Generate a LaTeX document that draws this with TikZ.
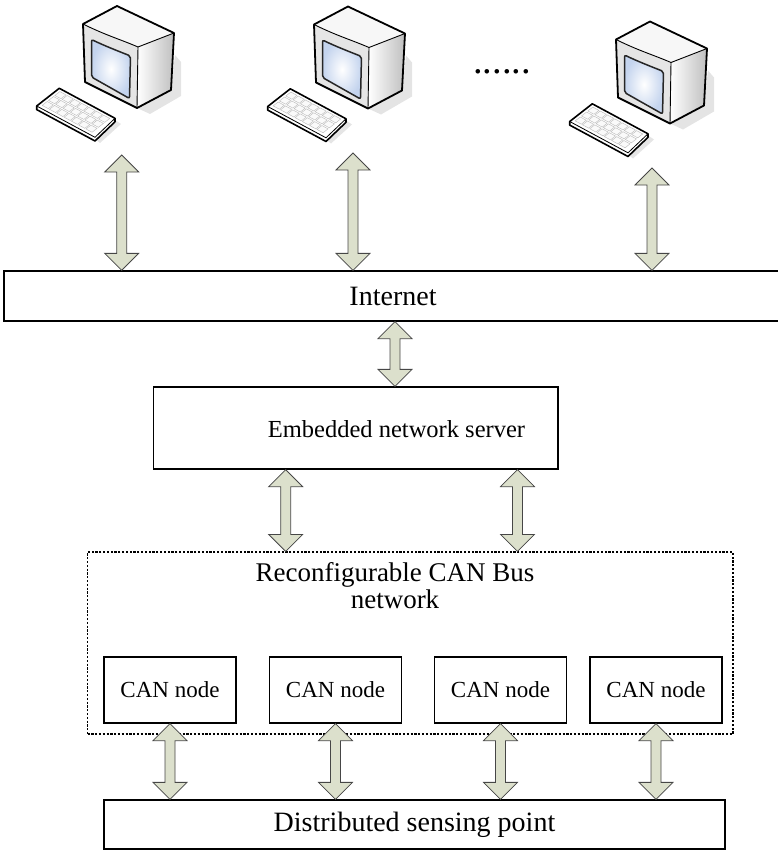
\documentclass[tikz,border=0pt]{standalone}
\usepackage{fontspec}
\setmainfont{Liberation Serif}
\usetikzlibrary{calc}

\definecolor{arrowfill}{RGB}{220,224,204}
\definecolor{arrowline}{RGB}{70,70,70}
\definecolor{screenblue}{RGB}{196,212,238}

% One workstation: monitor and keyboard, in local pixel-like units
\newcommand{\pcdraw}{%
  % soft shadows
  \fill[gray!30,opacity=0.7] (137,108) -- (171,90) -- (175,55) -- (181,62) -- (181,96) -- (150,114) -- cycle;
  \fill[gray!25,opacity=0.8] (95,139) -- (115,120) -- (121,124) -- (100,143) -- cycle;
  % right side of the cabinet
  \shade[left color=white, right color=gray!50] (138,47) -- (174,33) -- (171,90) -- (137,108) -- cycle;
  % top of the cabinet
  \fill[gray!6] (83,24) -- (117,6) -- (174,33) -- (138,47) -- cycle;
  % front bezel
  \fill[gray!20] (83,24) .. controls (105,35) and (122,40) .. (138,47) -- (137,108) -- (85,82) -- cycle;
  % screen
  \shadedraw[line width=1.5pt, draw=black!85, rounded corners=2pt, inner color=white, outer color=screenblue]
    (91.5,39.5) .. controls (105,46) and (118,51) .. (130.5,56) -- (129.5,98.5) -- (91.5,77) -- cycle;
  % cabinet outline and edges
  \draw[line width=1.8pt, line join=round] (83,24) -- (117,6) -- (174,33) -- (171,90) -- (137,108) -- (85,82) -- cycle;
  \draw[line width=0.9pt] (83,24) .. controls (105,35) and (122,40) .. (138,47) -- (174,33);
  \draw[line width=0.9pt] (138,47) -- (137,108);
  % keyboard body
  \filldraw[fill=white, line width=1.6pt, line join=round]
    (36.7,106) -- (59.3,88.3) -- (115,118.3) -- (115,121.8) -- (95,141) -- (36.7,109.6) -- cycle;
  \draw[line width=0.8pt] (36.7,106) -- (95,137.3) -- (115,118.3);
  % keys
  \foreach \col in {0,...,6}{
    \foreach \row in {0,1,2}{
      \pgfmathsetmacro{\ua}{0.05+\col*0.131}
      \pgfmathsetmacro{\ub}{\ua+0.11}
      \pgfmathsetmacro{\va}{0.1+\row*0.28}
      \pgfmathsetmacro{\vb}{\va+0.22}
      \filldraw[fill=gray!4, draw=gray!55, line width=0.4pt]
        ({59.3+55.7*\ua-22.6*\va},{88.3+30*\ua+17.7*\va}) --
        ({59.3+55.7*\ub-22.6*\va},{88.3+30*\ub+17.7*\va}) --
        ({59.3+55.7*\ub-22.6*\vb},{88.3+30*\ub+17.7*\vb}) --
        ({59.3+55.7*\ua-22.6*\vb},{88.3+30*\ua+17.7*\vb}) -- cycle;
    }
  }
}

\tikzset{
  box/.style={draw, line width=1.3pt, inner sep=0pt},
  bigtext/.style={font=\fontsize{28}{30}\selectfont},
  cannode/.style={box, minimum width=132pt, minimum height=66pt, font=\fontsize{23}{25}\selectfont},
  dblarrow/.style={draw=arrowline, fill=arrowfill, line width=0.8pt, line join=miter,
    to path={let \p1=(\tikztostart), \p2=(\tikztotarget) in
      (\x1,\y1) -- (\x1+17pt,\y1-17pt) -- (\x1+5pt,\y1-17pt) -- (\x1+5pt,\y2+17pt)
      -- (\x1+17pt,\y2+17pt) -- (\x1,\y2) -- (\x1-17pt,\y2+17pt) -- (\x1-5pt,\y2+17pt)
      -- (\x1-5pt,\y1-17pt) -- (\x1-17pt,\y1-17pt) -- cycle}}
}

\begin{document}
\begin{tikzpicture}[x=1pt, y=-1pt]
  \useasboundingbox (0,0) rectangle (778,851);

  % workstations
  \pcdraw
  \begin{scope}[shift={(231,0.5)}] \pcdraw \end{scope}
  \begin{scope}[shift={(533,15.5)}] \pcdraw \end{scope}
  \node[font=\fontsize{38.4}{40}\selectfont, anchor=base] (dots) at (502,74) {......};

  % boxes
  \node[box, bigtext, minimum width=778pt, minimum height=50pt] (inet) at (393,296) {Internet};
  \node[box, minimum width=404.5pt, minimum height=82pt] (srv) at (355.75,428) {};
  \node[font=\fontsize{24.5}{26}\selectfont] (srvtext) at (396.5,429) {Embedded network server};
  \node[draw, line width=1.2pt, dash pattern=on 2.2pt off 1.6pt, minimum width=645.5pt, minimum height=182pt, inner sep=0pt]
    (canbus) at (410.25,643) {};
  \node[font=\fontsize{27}{27}\selectfont, align=center, anchor=base] (bustext) at (395,608)
    {Reconfigurable CAN Bus\\network};
  \node[cannode] (can1) at (170,690) {CAN node};
  \node[cannode] (can2) at (335.5,690) {CAN node};
  \node[cannode] (can3) at (500.5,690) {CAN node};
  \node[cannode] (can4) at (656,690) {CAN node};
  \node[box, bigtext, minimum width=621pt, minimum height=49pt] (dsp) at (414.5,824.5) {Distributed sensing point};

  % connection points
  \coordinate (pc1) at (121.7,155);
  \coordinate (pc2) at (353,153);
  \coordinate (pc3) at (652,168);
  \coordinate (inetlink) at (395,354);
  \coordinate (busA) at (285.7,510);
  \coordinate (busB) at (517.5,510);

  % bidirectional links
  \draw[dblarrow] (pc1) to (inet.north -| pc1);
  \draw[dblarrow] (pc2) to (inet.north -| pc2);
  \draw[dblarrow] (pc3) to (inet.north -| pc3);
  \draw[dblarrow] (inet.south -| inetlink) to (srv.north -| inetlink);
  \draw[dblarrow] (srv.south -| busA) to (canbus.north -| busA);
  \draw[dblarrow] (srv.south -| busB) to (canbus.north -| busB);
  \draw[dblarrow] (can1.south) to (dsp.north -| can1.south);
  \draw[dblarrow] (can2.south) to (dsp.north -| can2.south);
  \draw[dblarrow] (can3.south) to (dsp.north -| can3.south);
  \draw[dblarrow] (can4.south) to (dsp.north -| can4.south);
\end{tikzpicture}
\end{document}
